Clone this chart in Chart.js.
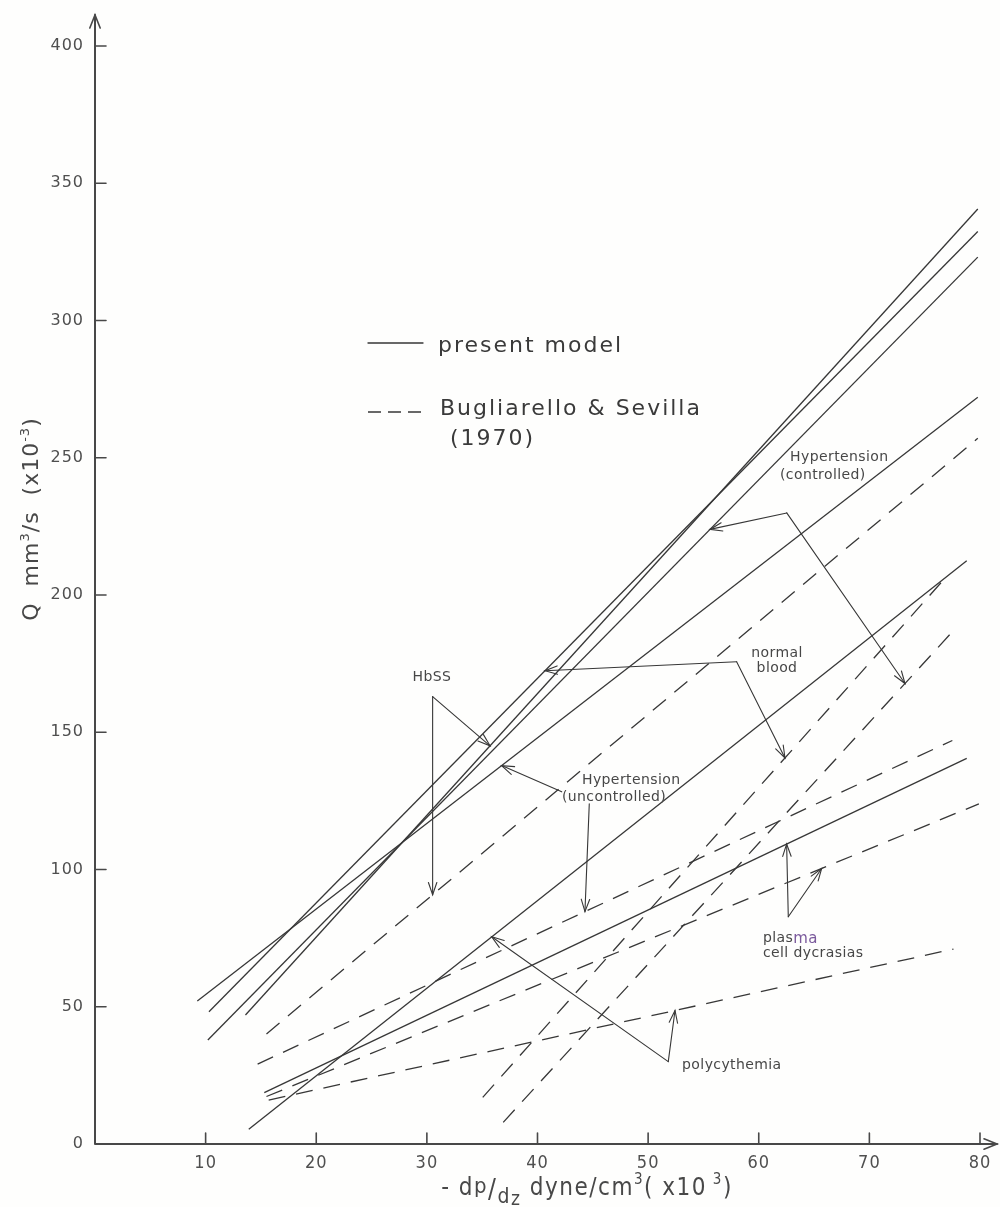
<!DOCTYPE html>
<html>
<head>
<meta charset="utf-8">
<script src="https://cdn.jsdelivr.net/npm/chart.js@4.4.1/dist/chart.umd.min.js"></script>
<style>
  html, body { margin: 0; padding: 0; background: #fefefd; }
  #wrap { width: 1000px; height: 1207px; position: relative; }
</style>
</head>
<body>
<div id="wrap"><canvas id="flowChart"></canvas></div>
<script>
// Flow rate Q against pressure gradient: present model vs Bugliarello & Sevilla (1970)

const conditions = ['HbSS', 'normal blood', 'Hypertension (controlled)',
    'Hypertension (uncontrolled)', 'polycythemia', 'plasma cell dycrasias'];

// present model (solid lines), end points of each line
const modelStartX = [13.6, 10.3, 10.2, 9.25, 13.9, 15.3];
const modelStartQ = [47.0, 48.2, 37.9, 52.1, 5.4, 18.7];
const modelEndX = [79.8, 79.8, 79.8, 79.8, 78.8, 78.8];
const modelEndQ = [340.6, 332.4, 323.1, 272.0, 212.5, 140.5];

// Bugliarello & Sevilla (dashed lines)
const bsStartX = [15.5, 35.05, 36.9, 14.7, 15.7, 15.5];
const bsStartQ = [40.1, 17.0, 7.9, 29.1, 16.0, 17.3];
const bsEndX = [79.8, 76.7, 77.5, 77.5, 77.6, 79.9];
const bsEndQ = [257.1, 205.5, 186.6, 147.0, 71.0, 123.9];

const xTicks = [0, 10, 20, 30, 40, 50, 60, 70, 80];
const yTicks = [0, 50, 100, 150, 200, 250, 300, 350, 400];

// callout arrows: start point, then which line they point at (set, index, x)
const arrows = [
    { from: [30.52, 163.0], set: 'model', i: 0, at: 35.71 },
    { from: [30.52, 163.0], set: 'bs', i: 0, at: 30.52 },
    { from: [62.53, 229.9], set: 'model', i: 2, at: 55.59 },
    { from: [62.53, 229.9], set: 'bs', i: 2, at: 73.22 },
    { from: [58.0, 175.7], set: 'model', i: 1, at: 40.68 },
    { from: [58.0, 175.7], set: 'bs', i: 1, at: 62.37 },
    { from: [42.19, 128.3], set: 'model', i: 3, at: 36.76 },
    { from: [44.68, 123.9], set: 'bs', i: 3, at: 44.29 },
    { from: [51.82, 30.0], set: 'model', i: 4, at: 35.86 },
    { from: [51.82, 30.0], set: 'bs', i: 4, at: 52.43 },
    { from: [62.67, 82.8], set: 'model', i: 5, at: 62.52 },
    { from: [62.67, 82.8], set: 'bs', i: 5, at: 65.69 }
];

// callout texts (x, Q, alignment)
const calloutText = [
    { t: 'HbSS', x: 30.46, y: 170.1, align: 'center' },
    { t: 'Hypertension', x: 62.83, y: 250.3, align: 'left' },
    { t: '(controlled)', x: 61.92, y: 243.7, align: 'left' },
    { t: 'normal', x: 61.65, y: 178.9, align: 'center' },
    { t: 'blood', x: 61.65, y: 173.4, align: 'center' },
    { t: 'Hypertension', x: 44.02, y: 132.6, align: 'left' },
    { t: '(uncontrolled)', x: 42.21, y: 126.4, align: 'left' },
    { t: 'cell dycrasias', x: 60.38, y: 69.6, align: 'left' },
    { t: 'polycythemia', x: 53.07, y: 28.8, align: 'left' }
];

const inkColor = '#373737';
const axisColor = '#484848';
const textColor = '#474747';
const dashPattern = [17, 11];

function lineValueAt(set, i, x) {
    const sx = set === 'model' ? modelStartX : bsStartX;
    const sq = set === 'model' ? modelStartQ : bsStartQ;
    const ex = set === 'model' ? modelEndX : bsEndX;
    const eq = set === 'model' ? modelEndQ : bsEndQ;
    return sq[i] + (eq[i] - sq[i]) * (x - sx[i]) / (ex[i] - sx[i]);
}

function openHead(ctx, x0, y0, x1, y1, len, spread) {
    const a = Math.atan2(y1 - y0, x1 - x0);
    ctx.beginPath();
    ctx.moveTo(x1 - len * Math.cos(a - spread), y1 - len * Math.sin(a - spread));
    ctx.lineTo(x1, y1);
    ctx.lineTo(x1 - len * Math.cos(a + spread), y1 - len * Math.sin(a + spread));
    ctx.stroke();
}

// draws text made of several runs (superscripts etc.) centred on x
function drawRuns(ctx, runs, x, y, family) {
    let total = 0;
    runs.forEach(r => {
        ctx.font = `${r.size}px ${family}`;
        r.w = ctx.measureText(r.t).width;
        total += r.w;
    });
    let cx = x - total / 2;
    runs.forEach(r => {
        ctx.font = `${r.size}px ${family}`;
        ctx.fillText(r.t, cx, y + (r.dy || 0));
        cx += r.w;
    });
}

const datasets = [];
conditions.forEach((name, i) => {
    datasets.push({
        label: name + ' (present model)',
        data: [{ x: modelStartX[i], y: modelStartQ[i] }, { x: modelEndX[i], y: modelEndQ[i] }],
        borderColor: inkColor,
        borderWidth: 1.3,
        pointRadius: 0
    });
    datasets.push({
        label: name + ' (Bugliarello & Sevilla)',
        data: [{ x: bsStartX[i], y: bsStartQ[i] }, { x: bsEndX[i], y: bsEndQ[i] }],
        borderColor: inkColor,
        borderWidth: 1.3,
        borderDash: dashPattern,
        pointRadius: 0
    });
});

const sheetPlugin = {
    id: 'sheet',
    beforeDraw(chart) {
        chart.ctx.letterSpacing = '1px';
    },
    afterDraw(chart) {
        const ctx = chart.ctx;
        const xs = chart.scales.x;
        const ys = chart.scales.y;
        const x0 = xs.getPixelForValue(0);
        const y0 = ys.getPixelForValue(0);

        ctx.save();
        ctx.letterSpacing = '0px';
        ctx.strokeStyle = axisColor;
        ctx.lineCap = 'round';

        // axes with arrow heads
        ctx.lineWidth = 2;
        ctx.beginPath();
        ctx.moveTo(x0, y0);
        ctx.lineTo(x0, 15);
        ctx.moveTo(x0, y0);
        ctx.lineTo(997, y0);
        ctx.stroke();
        ctx.lineWidth = 1.6;
        openHead(ctx, x0, 60, x0, 15, 14, 0.38);
        openHead(ctx, 950, y0, 997, y0, 14, 0.38);

        // inward tick marks
        ctx.beginPath();
        xs.ticks.forEach(t => {
            if (t.value === 0) return;
            const px = xs.getPixelForValue(t.value);
            ctx.moveTo(px, y0);
            ctx.lineTo(px, y0 - 11);
        });
        ys.ticks.forEach(t => {
            if (t.value === 0) return;
            const py = ys.getPixelForValue(t.value);
            ctx.moveTo(x0, py);
            ctx.lineTo(x0 + 11, py);
        });
        ctx.stroke();

        // callout arrows
        ctx.strokeStyle = inkColor;
        ctx.lineWidth = 1.1;
        arrows.forEach(a => {
            const fx = xs.getPixelForValue(a.from[0]);
            const fy = ys.getPixelForValue(a.from[1]);
            const tx = xs.getPixelForValue(a.at);
            const ty = ys.getPixelForValue(lineValueAt(a.set, a.i, a.at));
            ctx.beginPath();
            ctx.moveTo(fx, fy);
            ctx.lineTo(tx, ty);
            ctx.stroke();
            openHead(ctx, fx, fy, tx, ty, 13, 0.33);
        });

        // callout texts
        ctx.fillStyle = textColor;
        ctx.textBaseline = 'middle';
        ctx.font = '14px "DejaVu Sans"';
        ctx.letterSpacing = '0.4px';
        calloutText.forEach(c => {
            ctx.textAlign = c.align;
            ctx.fillText(c.t, xs.getPixelForValue(c.x), ys.getPixelForValue(c.y));
        });
        // "plasma" with its last letters written in over the print
        ctx.textAlign = 'left';
        const plx = xs.getPixelForValue(60.38);
        const ply = ys.getPixelForValue(75.0);
        ctx.fillText('plas', plx, ply);
        const plw = ctx.measureText('plas').width;
        ctx.fillStyle = '#7b5a9c';
        ctx.font = '15px "DejaVu Sans"';
        ctx.fillText('ma', plx + plw, ply + 1);

        // legend
        ctx.fillStyle = '#3a3a3a';
        ctx.textAlign = 'left';
        ctx.textBaseline = 'alphabetic';
        ctx.font = '22px "DejaVu Sans"';
        ctx.letterSpacing = '2px';
        ctx.fillText('present model', 438, 352);
        ctx.fillText('Bugliarello & Sevilla', 440, 415);
        ctx.fillText('(1970)', 450, 445);
        ctx.lineWidth = 1.3;
        ctx.strokeStyle = inkColor;
        ctx.beginPath();
        ctx.moveTo(368, 343);
        ctx.lineTo(423, 343);
        ctx.stroke();
        ctx.setLineDash([13, 7]);
        ctx.lineCap = 'butt';
        ctx.beginPath();
        ctx.moveTo(368, 412);
        ctx.lineTo(428, 412);
        ctx.stroke();
        ctx.setLineDash([]);

        // axis titles
        ctx.fillStyle = '#484848';
        ctx.letterSpacing = '1.5px';
        const narrow = '"Liberation Sans Narrow", "DejaVu Sans Condensed", "DejaVu Sans"';
        drawRuns(ctx, [
            { t: '- d', size: 24 },
            { t: 'p', size: 22, dy: -2 },
            { t: '/', size: 26, dy: 3 },
            { t: 'd', size: 21, dy: 8 },
            { t: 'z', size: 19, dy: 10 },
            { t: ' dyne/cm', size: 24 },
            { t: '3', size: 15, dy: -11 },
            { t: '( x10', size: 24 },
            { t: ' 3', size: 15, dy: -11 },
            { t: ')', size: 24 }
        ], 587, 1195, narrow);

        ctx.letterSpacing = '1px';
        ctx.translate(38, 519);
        ctx.rotate(-Math.PI / 2);
        drawRuns(ctx, [
            { t: 'Q  mm', size: 22 },
            { t: '3', size: 13, dy: -9 },
            { t: '/s  (x10', size: 22 },
            { t: '-3', size: 13, dy: -9 },
            { t: ')', size: 22 }
        ], 0, 0, '"DejaVu Sans"');
        ctx.restore();
    }
};

const ctx = document.getElementById('flowChart');
new Chart(ctx, {
    type: 'line',
    data: { datasets: datasets },
    options: {
        responsive: true,
        maintainAspectRatio: false,
        animation: false,
        events: [],
        layout: { padding: { left: 0, right: 20, top: 46, bottom: 0 } },
        plugins: {
            legend: { display: false },
            tooltip: { enabled: false }
        },
        scales: {
            x: {
                type: 'linear',
                min: 0,
                max: 80,
                afterBuildTicks: scale => { scale.ticks = xTicks.map(v => ({ value: v })); },
                afterFit: scale => { scale.height = 63; },
                grid: { display: false, drawTicks: false },
                border: { display: false },
                ticks: {
                    padding: 9,
                    color: '#4f4f4f',
                    font: { family: '"Liberation Sans Narrow", "DejaVu Sans Condensed", "DejaVu Sans"', size: 18 },
                    callback: v => (v === 0 ? '' : v)
                }
            },
            y: {
                type: 'linear',
                min: 0,
                max: 400,
                afterBuildTicks: scale => { scale.ticks = yTicks.map(v => ({ value: v })); },
                afterFit: scale => { scale.width = 95; },
                grid: { display: false, drawTicks: false },
                border: { display: false },
                ticks: {
                    padding: 11,
                    color: '#4f4f4f',
                    font: { family: '"DejaVu Sans"', size: 16 }
                }
            }
        }
    },
    plugins: [sheetPlugin]
});
</script>
</body>
</html>
